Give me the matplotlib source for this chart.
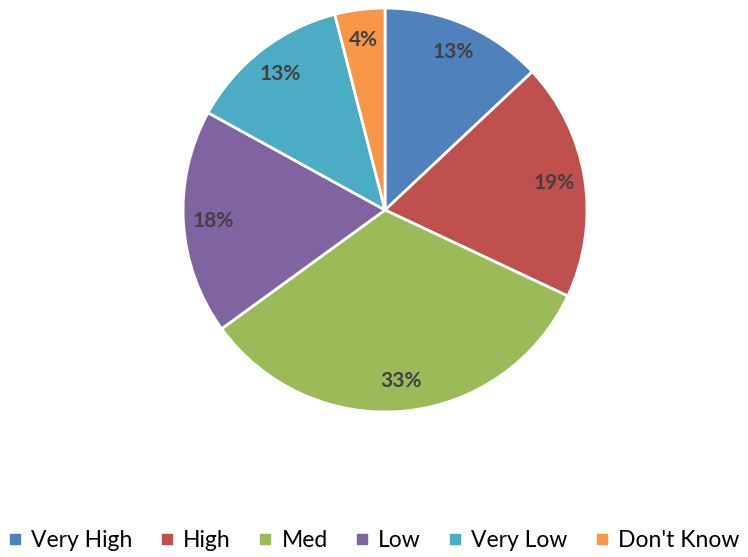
import matplotlib.pyplot as plt
from matplotlib.lines import Line2D

labels = ["Very High", "High", "Med", "Low", "Very Low", "Don't Know"]
values = [13, 19, 33, 18, 13, 4]
colors = ["#4F81BD", "#C0504D", "#9BBB59", "#8064A2", "#4BACC6", "#F79646"]

plt.rcParams["font.family"] = ["Lato", "DejaVu Sans"]

fig = plt.figure(figsize=(7.48, 5.57), dpi=100)
ax = fig.add_axes([0.242, 0.2567, 0.5455, 0.7325])

wedges, texts, autotexts = ax.pie(
    values, colors=colors, startangle=90, counterclock=False,
    autopct="%1.0f%%", pctdistance=0.85,
    wedgeprops=dict(edgecolor="white", linewidth=2),
    textprops=dict(color="#404040", fontsize=15, fontweight="bold"),
)
ax.set_aspect("equal")
ax.set_xlim(-1.01, 1.01)
ax.set_ylim(-1.01, 1.01)

handles = [Line2D([], [], marker="s", linestyle="none", markersize=7,
                  markerfacecolor=c, markeredgecolor=c) for c in colors]
fig.legend(handles, labels, loc="center", bbox_to_anchor=(0.5, 0.03),
           ncol=6, frameon=False, fontsize=16.5, handletextpad=0.4,
           columnspacing=1.2, handlelength=0.6)

fig.savefig("out.png", dpi=100)
